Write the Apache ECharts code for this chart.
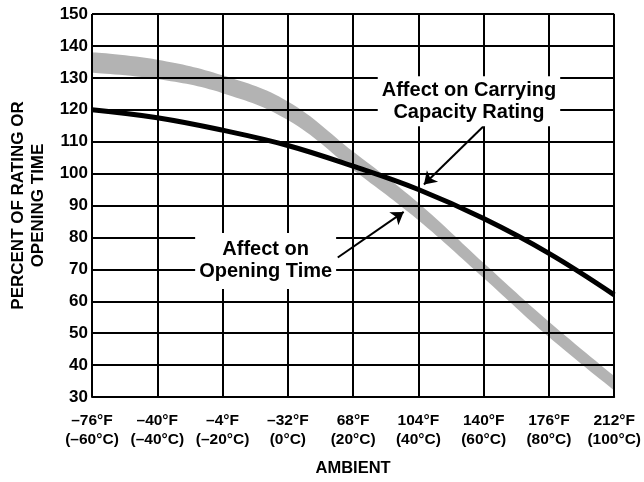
<!DOCTYPE html>
<html>
<head>
<meta charset="utf-8">
<script src="https://cdn.jsdelivr.net/npm/echarts@6/dist/echarts.min.js"></script>
<style>
html,body{margin:0;padding:0;background:#fff;}
#chart{width:644px;height:482px;}
</style>
</head>
<body>
<div id="chart"></div>
<script>
// Ambient temperature positions (°C)
var tempC = [-60, -40, -20, 0, 20, 40, 60, 80, 100];
// Tick labels
var fLabels = ['–76°F', '–40°F', '–4°F', '–32°F', '68°F', '104°F', '140°F', '176°F', '212°F'];
var cLabels = ['(–60°C)', '(–40°C)', '(–20°C)', '(0°C)', '(20°C)', '(40°C)', '(60°C)', '(80°C)', '(100°C)'];
// Affect on carrying capacity rating (%)
var carrying = [120, 117.5, 113.6, 108.8, 102.3, 95, 85.9, 75, 62];
// Affect on opening time band (%), lower and upper edge
var openLow = [131.6, 129.6, 125.2, 116.8, 101.2, 85.4, 67.3, 48.8, 32.1];
var openHigh = [138, 135.7, 130.8, 122.6, 106.9, 90.8, 72, 53.6, 36.6];
// Annotations
var noteCarry = 'Affect on Carrying\nCapacity Rating';
var noteOpen = 'Affect on\nOpening Time';

var bandDiff = openHigh.map(function (v, i) { return +(v - openLow[i]).toFixed(2); });
function pairs(arr) { return tempC.map(function (x, i) { return [x, arr[i]]; }); }

var FONT = '"Liberation Sans", Arial, Helvetica, sans-serif';
var chart = echarts.init(document.getElementById('chart'));
chart.setOption({
  animation: false,
  backgroundColor: '#fff',
  grid: { left: 91, right: 24, top: 14, bottom: 77 },
  xAxis: [{
    type: 'value', min: -60, max: 100, interval: 20,
    name: 'AMBIENT', nameLocation: 'middle', nameGap: 63,
    nameTextStyle: { fontFamily: FONT, fontWeight: 'bold', fontSize: 16.5, color: '#000' },
    axisLine: { show: true, lineStyle: { color: '#000', width: 2 } },
    axisTick: { show: false },
    splitLine: { show: true, lineStyle: { color: '#000', width: 2 } },
    axisLabel: {
      margin: 14, fontFamily: FONT, fontWeight: 'bold', fontSize: 15.5, color: '#000', lineHeight: 19,
      formatter: function (v) {
        var i = tempC.indexOf(v);
        return i < 0 ? '' : fLabels[i] + '\n' + cLabels[i];
      }
    }
  }, {
    type: 'category', data: cLabels, boundaryGap: false, show: false, position: 'bottom'
  }],
  yAxis: {
    type: 'value', min: 30, max: 150, interval: 10,
    name: 'PERCENT OF RATING OR\nOPENING TIME', nameLocation: 'middle', nameGap: 44, nameRotate: 90,
    nameTextStyle: { fontFamily: FONT, fontWeight: 'bold', fontSize: 17, color: '#000', lineHeight: 20 },
    axisLine: { show: true, lineStyle: { color: '#000', width: 2 } },
    axisTick: { show: true, length: 4, lineStyle: { color: '#000', width: 2 } },
    splitLine: { show: true, lineStyle: { color: '#000', width: 2 } },
    axisLabel: { margin: 4, fontFamily: FONT, fontWeight: 'bold', fontSize: 17, color: '#000' }
  },
  series: [
    {
      type: 'line', xAxisIndex: 1, data: openLow, stack: 'open', smooth: 0.4, symbol: 'none', z: -1,
      lineStyle: { opacity: 0 }, silent: true
    },
    {
      type: 'line', xAxisIndex: 1, data: bandDiff, stack: 'open', smooth: 0.4, symbol: 'none', z: -1,
      lineStyle: { opacity: 0 }, areaStyle: { color: '#b3b3b3', opacity: 1 }, silent: true
    },
    {
      type: 'line', data: pairs(carrying), smooth: 0.4, symbol: 'none', z: 3,
      lineStyle: { color: '#000', width: 5 },
      markLine: {
        silent: true, symbol: ['none', 'arrow'], symbolSize: 12,
        lineStyle: { color: '#000', width: 2, type: 'solid' },
        label: { show: false },
        data: [
          [{ coord: [61.6, 116.5] }, { coord: [41.7, 96.6] }],
          [{ coord: [15.3, 73.7] }, { coord: [35.5, 88] }]
        ]
      },
      markPoint: {
        silent: true, symbol: 'rect', symbolSize: 1, itemStyle: { color: 'rgba(0,0,0,0)' },
        label: {
          show: true, position: 'inside', fontFamily: FONT, fontWeight: 'bold',
          fontSize: 20, lineHeight: 22, color: '#000', backgroundColor: '#fff'
        },
        data: [
          { coord: [55.5, 122.7], label: { formatter: noteCarry, align: 'center', padding: [3, 4, 3, 4] } },
          { coord: [-6.8, 72.65], label: { formatter: noteOpen, align: 'center', padding: [6, 4, 6, 4] } }
        ]
      }
    }
  ]
});
</script>
</body>
</html>
